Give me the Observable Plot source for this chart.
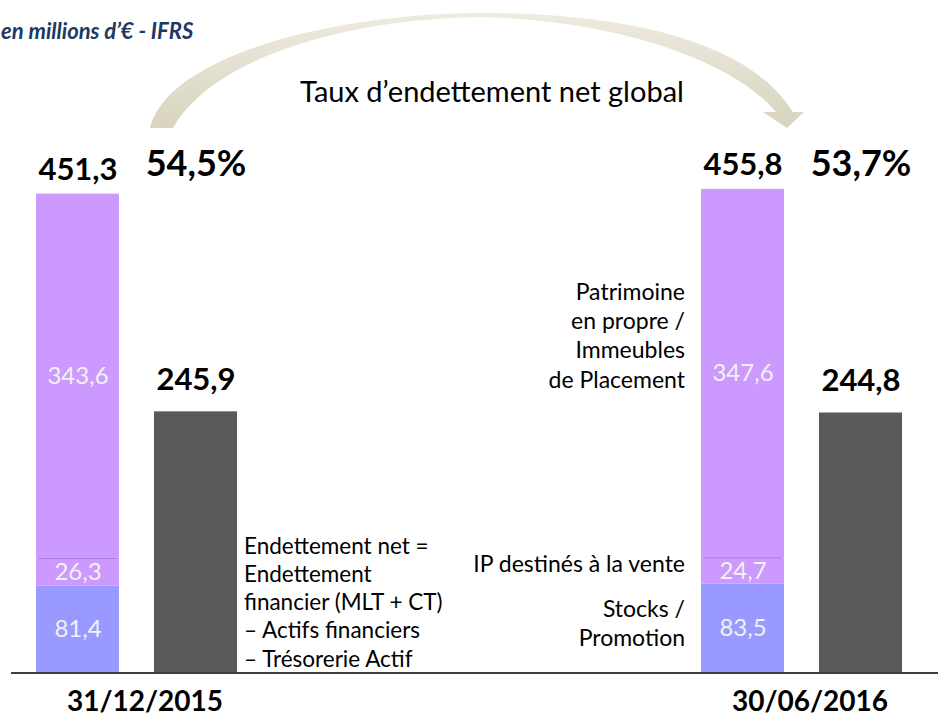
<!DOCTYPE html>
<html>
<head>
<meta charset="utf-8">
<script src="https://cdn.jsdelivr.net/npm/d3@7"></script>
<script src="https://cdn.jsdelivr.net/npm/@observablehq/plot@0.6"></script>
<style>
  html, body { margin: 0; padding: 0; background: #fff; overflow: hidden; }
  #chart { position: relative; width: 938px; height: 715px; }
</style>
</head>
<body>
<div id="chart"></div>
<script>
// ---- Data (in millions of €) ----
const dates = ["31/12/2015", "30/06/2016"];
const segments = ["Stocks / Promotion", "IP destinés à la vente", "Patrimoine en propre / Immeubles de Placement"];
const stocksValues = [81.4, 83.5];
const ipValues = [26.3, 24.7];
const patrimoineValues = [343.6, 347.6];
const totalValues = [451.3, 455.8];
const netDebtValues = [245.9, 244.8];
const ratioLabels = ["54,5%", "53,7%"];
const barKinds = ["Patrimoine", "Endettement"];

const fmt = v => v.toFixed(1).replace(".", ",");

const stackRows = [];
dates.forEach((date, i) => {
  [stocksValues[i], ipValues[i], patrimoineValues[i]].forEach((v, j) => {
    stackRows.push({date, bar: barKinds[0], seg: segments[j], value: v});
  });
});
const dividerRows = dates.map((date, i) => ({date, bar: barKinds[0], value: stocksValues[i] + ipValues[i]}));
const totalRows = dates.map((date, i) => ({date, bar: barKinds[0], value: totalValues[i]}));
const debtRows = dates.map((date, i) => ({date, bar: barKinds[1], value: netDebtValues[i]}));
const ratioRows = dates.map((date, i) => ({date, bar: barKinds[1], label: ratioLabels[i]}));

const font = "Lato, 'Open Sans', sans-serif";

const chart = Plot.plot({
  width: 938,
  height: 715,
  marginTop: 36,
  marginBottom: 43,
  marginLeft: 35,
  marginRight: 36,
  style: {fontFamily: font, fontSize: "20px", color: "#000", background: "transparent"},
  fx: {domain: dates, axis: null, paddingInner: 0.698, paddingOuter: 0},
  x: {domain: barKinds, axis: null, paddingInner: 0.3, paddingOuter: 0},
  y: {domain: [0, 600], axis: null},
  color: {domain: segments, range: ["#9999FF", "#CC99FF", "#CC99FF"]},
  marks: [
    Plot.barY(stackRows, Plot.stackY({fx: "date", x: "bar", y: "value", fill: "seg"})),
    Plot.tickY(dividerRows, {fx: "date", x: "bar", y: "value", stroke: "#A57AD6", strokeWidth: 1, inset: 2}),
    Plot.barY(debtRows, {fx: "date", x: "bar", y: "value", fill: "#595959"}),
    Plot.text(stackRows, Plot.stackY({fx: "date", x: "bar", y: "value", text: d => fmt(d.value), fill: "#F2F2F2", fontSize: 24})),
    Plot.text(totalRows, {fx: "date", x: "bar", y: "value", text: d => fmt(d.value), dy: -24, fontSize: 31, fontWeight: "bold", fill: "#000"}),
    Plot.text(debtRows, {fx: "date", x: "bar", y: "value", text: d => fmt(d.value), dy: -32, fontSize: 31, fontWeight: "bold", fill: "#000"}),
    Plot.text(ratioRows, {fx: "date", x: "bar", frameAnchor: "top", dy: 114, text: "label", fontSize: 36, fontWeight: "bold", fill: "#000"}),
    Plot.text(dates, {fx: d => d, frameAnchor: "bottom", dy: 38, dx: 8, text: d => d, fontSize: 28, fontWeight: "bold", fill: "#000"}),
    // annotations
    Plot.text([{date: dates[0], bar: barKinds[1]}], {fx: "date", x: "bar", frameAnchor: "bottom", lineAnchor: "bottom", dy: -6, dx: 48, textAnchor: "start",
      text: () => "Endettement net =\nEndettement\nfinancier (MLT + CT)\n– Actifs financiers\n– Trésorerie Actif", fontSize: 22.5, lineHeight: 1.25, fill: "#000"}),
    Plot.text([{date: dates[1], bar: barKinds[0], value: stocksValues[1] + ipValues[1] + patrimoineValues[1] / 2}], {fx: "date", x: "bar", y: "value", lineAnchor: "bottom", dy: 14, dx: -58, textAnchor: "end",
      text: () => "Patrimoine\nen propre /\nImmeubles\nde Placement", fontSize: 23, lineHeight: 1.27, fill: "#000"}),
    Plot.text([{date: dates[1], bar: barKinds[0], value: stocksValues[1] + ipValues[1] / 2}], {fx: "date", x: "bar", y: "value", dx: -58, dy: -6, textAnchor: "end",
      text: () => "IP destinés à la vente", fontSize: 23, fill: "#000"}),
    Plot.text([{date: dates[1], bar: barKinds[0], value: stocksValues[1] / 2}], {fx: "date", x: "bar", y: "value", dx: -58, dy: -6, textAnchor: "end",
      text: () => "Stocks /\nPromotion", fontSize: 23, lineHeight: 1.27, fill: "#000"})
  ]
});

document.getElementById("chart").appendChild(chart);

// Decorations: baseline, curved arrow, caption, unit title
const svg = d3.select(chart);
const y0 = chart.scale("y").apply(0);
svg.append("line")
  .attr("x1", 11).attr("x2", 938)
  .attr("y1", y0 + 1).attr("y2", y0 + 1)
  .attr("stroke", "#404040").attr("stroke-width", 2);

const defs = svg.append("defs");
const grad = defs.append("linearGradient").attr("id", "arcGrad").attr("x1", 0).attr("y1", 0).attr("x2", 0).attr("y2", 1);
grad.append("stop").attr("offset", "0%").attr("stop-color", "#EEEBDF");
grad.append("stop").attr("offset", "100%").attr("stop-color", "#D8D4C0");

svg.append("path")
  .attr("d", "M150,128 C166,60 320,14 480,13 C640,13 752,46 793,112 L804,112 L787,128 L763,112 L776,112 C735,62 620,20 480,17 C345,19 212,58 173,128 Z")
  .attr("fill", "url(#arcGrad)");

svg.append("text")
  .attr("x", 492).attr("y", 95)
  .attr("text-anchor", "middle").attr("dominant-baseline", "middle")
  .attr("font-family", font).attr("font-size", 29).attr("fill", "#000")
  .text("Taux d’endettement net global");

svg.append("text")
  .attr("x", 1).attr("y", 39)
  .attr("text-anchor", "start")
  .attr("font-family", font).attr("font-size", 22).attr("font-weight", "bold").attr("font-style", "italic")
  .attr("fill", "#203864")
  .text("en millions d’€ - IFRS");
</script>
</body>
</html>
